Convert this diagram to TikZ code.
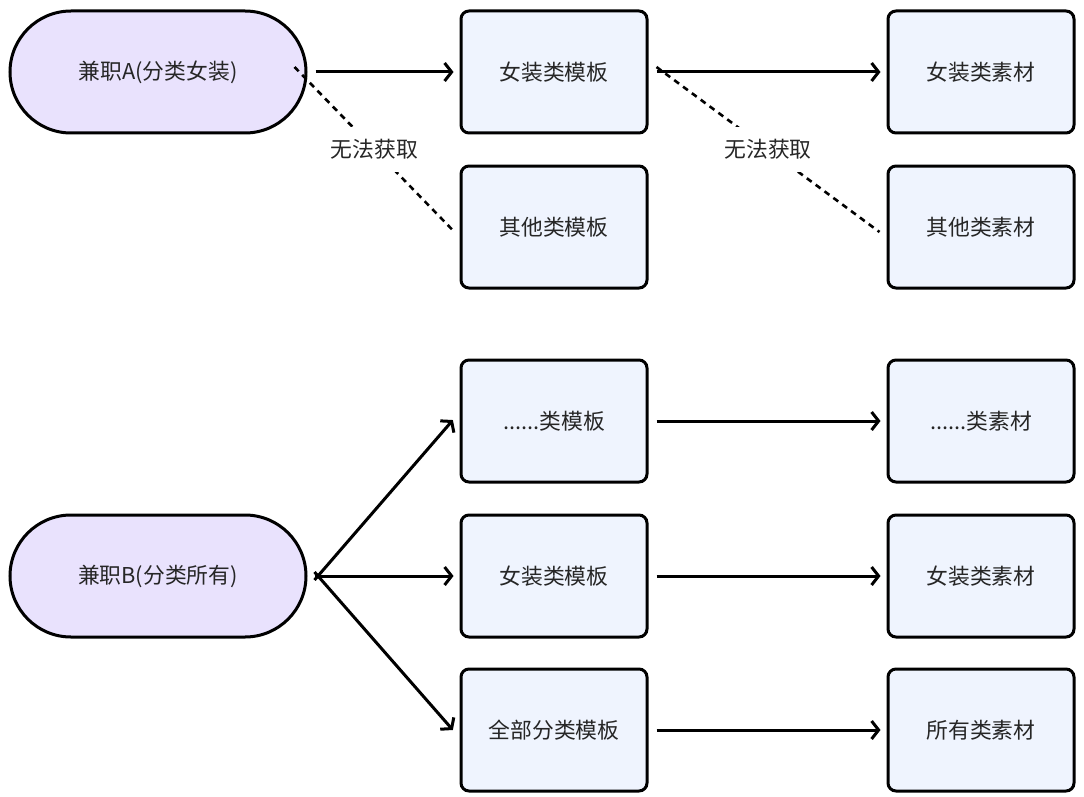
\documentclass[tikz,border=0pt]{standalone}
\usepackage{fontspec}
\setmainfont{Noto Sans CJK SC}
\usetikzlibrary{shapes.misc,arrows.meta}
\definecolor{boxfill}{HTML}{EFF4FE}
\definecolor{pillfill}{HTML}{E9E2FD}
\definecolor{txt}{HTML}{262626}
\tikzset{
  box/.style={draw=black, line width=3pt, rounded corners=8pt, fill=boxfill,
    minimum width=186pt, minimum height=122pt, font=\fontsize{21.8pt}{26pt}\selectfont, text=txt, inner sep=0pt},
  pill/.style={draw=black, line width=3pt, rounded rectangle, fill=pillfill,
    minimum width=296pt, minimum height=122pt, font=\fontsize{21.8pt}{26pt}\selectfont, text=txt, inner sep=0pt},
  arr/.style={line width=3pt, -{Straight Barb[length=7pt,width=18pt]}},
  dash line/.style={line width=2.6pt, dash pattern=on 6pt off 5pt},
  lbl/.style={fill=white, text=txt, inner xsep=2pt, inner ysep=12pt, font=\fontsize{21.8pt}{26pt}\selectfont}
}
\begin{document}
\begin{tikzpicture}[x=1pt,y=-1pt]
\useasboundingbox (0,0) rectangle (1084,797);
% nodes
\node[pill] (A) at (158,72) {兼职A(分类女装)};
\node[box] (a1) at (554,72) {女装类模板};
\node[box] (a2) at (554,227) {其他类模板};
\node[box] (a3) at (981,72) {女装类素材};
\node[box] (a4) at (981,227) {其他类素材};
\node[pill] (B) at (158,576) {兼职B(分类所有)};
\node[box] (b1) at (554,421) {......类模板};
\node[box] (b2) at (554,576) {女装类模板};
\node[box] (b3) at (554,730) {全部分类模板};
\node[box] (c1) at (981,421) {......类素材};
\node[box] (c2) at (981,576) {女装类素材};
\node[box] (c3) at (981,730) {所有类素材};
% connectors top
\draw[arr, shorten <=8pt, shorten >=6pt] (A.east) -- (a1.west);
\draw[arr, shorten <=8pt, shorten >=6pt] (a1.east) -- (a3.west);
\draw[dash line] ([xshift=-13pt,yshift=5pt]A.east) -- ([xshift=-5pt,yshift=-5pt]a2.west)
  node[midway, lbl] {无法获取};
\draw[dash line] ([xshift=8pt,yshift=5pt]a1.east) -- ([xshift=-7pt,yshift=-5pt]a4.west)
  node[midway, lbl] {无法获取};
% connectors bottom
\draw[arr, shorten >=4pt] ([xshift=7pt,yshift=-4pt]B.east) -- ([xshift=-4pt,yshift=4pt]b1.west);
\draw[arr, shorten <=7pt, shorten >=6pt] (B.east) -- (b2.west);
\draw[arr, shorten >=4pt] ([xshift=7pt,yshift=4pt]B.east) -- ([xshift=-4pt,yshift=-3pt]b3.west);
\draw[arr, shorten <=8pt, shorten >=6pt] (b1.east) -- (c1.west);
\draw[arr, shorten <=8pt, shorten >=6pt] (b2.east) -- (c2.west);
\draw[arr, shorten <=8pt, shorten >=6pt] (b3.east) -- (c3.west);
\end{tikzpicture}
\end{document}
